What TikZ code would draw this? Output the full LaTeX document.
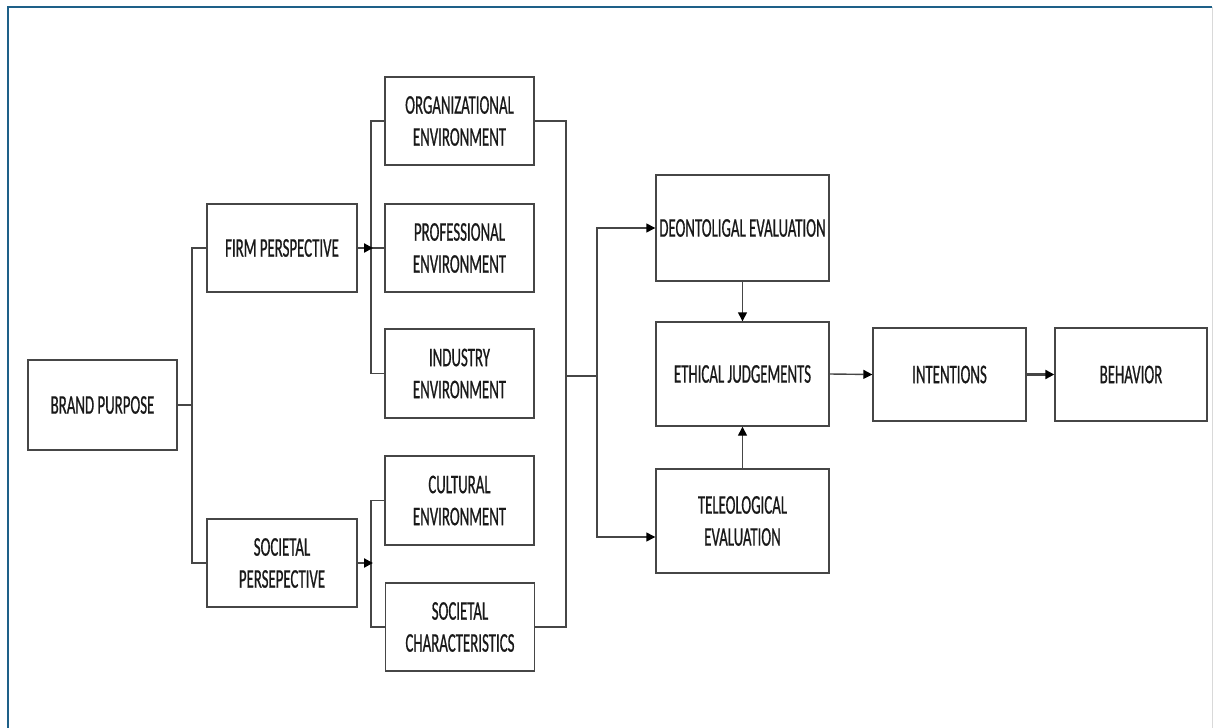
\documentclass[tikz,border=0pt]{standalone}
\usepackage{fontspec}
\newfontfamily\cf[FakeStretch=0.55,FakeBold=0.6]{Carlito}
\usetikzlibrary{arrows.meta}
\definecolor{frameblue}{RGB}{30,96,136}
\definecolor{boxline}{RGB}{70,70,70}
\tikzset{
  box/.style={draw=boxline, line width=1.4pt, fill=white, align=center,
    font=\cf\fontsize{27}{32}\selectfont, text=black!90, inner sep=0pt},
  conn/.style={draw=boxline, line width=1.4pt},
  arr/.style={conn, -{Triangle[length=9pt,width=9pt,fill=black,color=black]}}
}
\begin{document}
\begin{tikzpicture}[x=1pt,y=-1pt]
\useasboundingbox (0,0) rectangle (1213,728);
\fill[white] (0,0) rectangle (1213,728);
% frame
\draw[frameblue, line width=2pt] (8,728) -- (8,7) -- (1212,7);
\draw[black!15, line width=1pt] (1212,7) -- (1212,728);
% nodes
\node[box, minimum width=149pt, minimum height=90pt] (brand) at (102.5,405) {BRAND PURPOSE};
\node[box, minimum width=150pt, minimum height=88pt] (firm) at (282,248) {FIRM PERSPECTIVE};
\node[box, minimum width=150pt, minimum height=88pt] (soc) at (282,563) {SOCIETAL\\PERSEPECTIVE};
\node[box, minimum width=149pt, minimum height=88pt] (org) at (459.5,121) {ORGANIZATIONAL\\ENVIRONMENT};
\node[box, minimum width=149pt, minimum height=88pt] (prof) at (459.5,248) {PROFESSIONAL\\ENVIRONMENT};
\node[box, minimum width=149pt, minimum height=89pt] (ind) at (459.5,373.5) {INDUSTRY\\ENVIRONMENT};
\node[box, minimum width=149pt, minimum height=89pt] (cult) at (459.5,500.5) {CULTURAL\\ENVIRONMENT};
\node[box, minimum width=149pt, minimum height=88pt] (sch) at (460,627) {SOCIETAL\\CHARACTERISTICS};
\node[box, minimum width=173pt, minimum height=106pt] (deon) at (742.5,228) {DEONTOLIGAL EVALUATION};
\node[box, minimum width=173pt, minimum height=104pt] (eth) at (742.5,374) {ETHICAL JUDGEMENTS};
\node[box, minimum width=173pt, minimum height=104pt] (tel) at (742.5,521) {TELEOLOGICAL\\EVALUATION};
\node[box, minimum width=153pt, minimum height=93pt] (int) at (949.5,374.5) {INTENTIONS};
\node[box, minimum width=152pt, minimum height=93pt] (beh) at (1131,374.5) {BEHAVIOR};
% coordinates
\coordinate (b1) at (192,405);
\coordinate (f1) at (371,248);
\coordinate (s1) at (371,563);
\coordinate (r1) at (566,376);
\coordinate (e1) at (597,376);
% brand bracket
\draw[conn] (brand.east) -- (b1);
\draw[conn] (firm.west) -| (b1) |- (soc.west);
% firm bracket
\draw[conn] (org.west) -| (f1) |- (ind.west);
\draw[conn] (f1) -- (prof.west);
\draw[arr, line width=2.2pt] (firm.east) -- ([xshift=2pt]f1);
% societal bracket
\draw[conn] (cult.west) -| (s1) |- (sch.west);
\draw[arr, line width=2.2pt] (soc.east) -- ([xshift=2pt]s1);
% right bracket
\draw[conn] (org.east) -| (r1) |- (sch.east);
\draw[conn] (r1) -- (e1);
\draw[arr] (e1) |- (deon.west);
\draw[arr] (e1) |- ([yshift=-16pt]tel.west);
% evaluation to judgements
\draw[arr] (deon.south) -- (eth.north);
\draw[arr] (tel.north) -- (eth.south);
\draw[arr] (eth.east) -- (int.west);
\draw[arr, line width=2.2pt] (int.east) -- (beh.west);
\end{tikzpicture}
\end{document}
